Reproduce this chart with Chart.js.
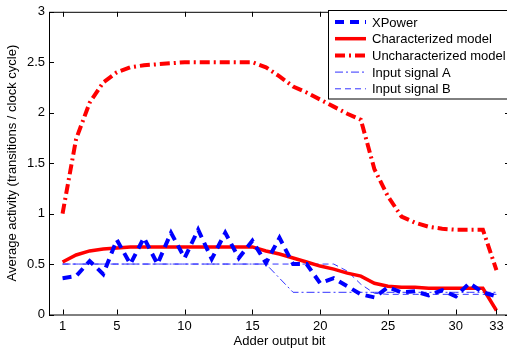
<!DOCTYPE html>
<html>
<head>
<meta charset="utf-8">
<script src="https://cdn.jsdelivr.net/npm/chart.js@4/dist/chart.umd.min.js"></script>
<style>
  html, body { margin: 0; padding: 0; background: #fff; overflow: hidden; }
  #wrap { width: 507px; height: 349px; overflow: hidden; }
</style>
</head>
<body>
<div id="wrap"><canvas id="myChart" width="512" height="349"></canvas></div>
<script>
const bits = [1, 2, 3, 4, 5, 6, 7, 8, 9, 10, 11, 12, 13, 14, 15, 16, 17,
    18, 19, 20, 21, 22, 23, 24, 25, 26, 27, 28, 29, 30, 31, 32, 33];

const xpower = [0.36, 0.38, 0.53, 0.40, 0.74, 0.50, 0.76, 0.50, 0.81, 0.56, 0.84,
    0.55, 0.81, 0.56, 0.73, 0.51, 0.76, 0.50, 0.50, 0.31, 0.36, 0.28, 0.20, 0.17,
    0.27, 0.22, 0.23, 0.19, 0.24, 0.18, 0.31, 0.22, 0.18];
const characterized = [0.52, 0.59, 0.63, 0.65, 0.66, 0.67, 0.67, 0.67, 0.67, 0.67, 0.67,
    0.67, 0.67, 0.67, 0.67, 0.63, 0.60, 0.56, 0.52, 0.48, 0.45, 0.41, 0.38, 0.31,
    0.28, 0.27, 0.27, 0.26, 0.26, 0.26, 0.26, 0.26, 0.04];
const uncharacterized = [1.00, 1.74, 2.10, 2.30, 2.40, 2.45, 2.47, 2.48, 2.49, 2.50, 2.50,
    2.50, 2.50, 2.50, 2.50, 2.45, 2.36, 2.26, 2.20, 2.13, 2.06, 1.99, 1.93, 1.44,
    1.17, 0.97, 0.91, 0.87, 0.85, 0.84, 0.84, 0.84, 0.44];
const inputA = [0.50, 0.50, 0.50, 0.50, 0.50, 0.50, 0.50, 0.50, 0.50, 0.50, 0.50,
    0.50, 0.50, 0.50, 0.50, 0.50, 0.36, 0.22, 0.22, 0.22, 0.22, 0.22, 0.22, 0.22,
    0.22, 0.22, 0.22, 0.22, 0.22, 0.22, 0.22, 0.22, 0.22];
const inputB = [0.50, 0.50, 0.50, 0.50, 0.50, 0.50, 0.50, 0.50, 0.50, 0.50, 0.50,
    0.50, 0.50, 0.50, 0.50, 0.50, 0.50, 0.50, 0.50, 0.50, 0.50, 0.43, 0.30, 0.21,
    0.20, 0.20, 0.20, 0.20, 0.20, 0.20, 0.20, 0.20, 0.20];

const xTicks = [1, 5, 10, 15, 20, 25, 30, 33];
const yTicks = [0, 0.5, 1, 1.5, 2, 2.5, 3];

const pts = vals => vals.map((v, i) => ({ x: bits[i], y: v }));

Chart.defaults.font.family = '"Liberation Sans", Arial, sans-serif';
Chart.defaults.font.size = 13;
Chart.defaults.color = '#000';

// MATLAB style frame: box all round, ticks pointing inwards
const frame = {
    id: 'frame',
    afterDatasetsDraw(chart) {
        const { ctx, chartArea: a, scales: { x, y } } = chart;
        ctx.save();
        ctx.strokeStyle = '#000';
        ctx.lineWidth = 1;
        ctx.strokeRect(a.left + 0.5, a.top + 0.5, a.right - a.left, a.bottom - a.top);
        ctx.beginPath();
        xTicks.forEach(t => {
            const px = Math.round(x.getPixelForValue(t)) + 0.5;
            ctx.moveTo(px, a.bottom); ctx.lineTo(px, a.bottom - 5);
            ctx.moveTo(px, a.top); ctx.lineTo(px, a.top + 5);
        });
        yTicks.forEach(t => {
            const py = Math.round(y.getPixelForValue(t)) + 0.5;
            ctx.moveTo(a.left, py); ctx.lineTo(a.left + 5, py);
            ctx.moveTo(a.right, py); ctx.lineTo(a.right - 5, py);
        });
        ctx.stroke();

        // legend box
        const lx = 328.5, ly = 10.5, lw = 200, lh = 88.5;
        ctx.fillStyle = '#fff';
        ctx.fillRect(lx, ly, lw, lh);
        ctx.strokeRect(lx, ly, lw, lh);
        ctx.font = '13px "Liberation Sans", Arial, sans-serif';
        ctx.textBaseline = 'middle';
        chart.data.datasets.forEach((ds, i) => {
            const ry = 22 + i * 16.7;
            ctx.save();
            ctx.strokeStyle = ds.borderColor;
            ctx.lineWidth = ds.borderWidth;
            ctx.setLineDash(ds.borderDash || []);
            ctx.beginPath();
            ctx.moveTo(335, ry); ctx.lineTo(366, ry);
            ctx.stroke();
            ctx.restore();
            ctx.fillStyle = '#000';
            ctx.fillText(ds.label, 372, ry + 1);
        });
        ctx.restore();
    }
};

const ctx = document.getElementById('myChart').getContext('2d');

const myChart = new Chart(ctx, {
    type: 'line',
    data: {
        datasets: [{
            label: 'XPower',
            data: pts(xpower),
            borderColor: '#0000ff',
            borderWidth: 4,
            borderDash: [9, 6]
        }, {
            label: 'Characterized model',
            data: pts(characterized),
            borderColor: '#ff0000',
            borderWidth: 3.5
        }, {
            label: 'Uncharacterized model',
            data: pts(uncharacterized),
            borderColor: '#ff0000',
            borderWidth: 4,
            borderDash: [10, 4, 2, 4]
        }, {
            label: 'Input signal A',
            data: pts(inputA),
            borderColor: '#3333ff',
            borderWidth: 1,
            borderDash: [8, 3, 2, 3]
        }, {
            label: 'Input signal B',
            data: pts(inputB),
            borderColor: '#3333ff',
            borderWidth: 1,
            borderDash: [6, 4]
        }]
    },
    options: {
        responsive: false,
        animation: false,
        layout: { padding: { top: 11, right: 2, left: 5, bottom: 0 } },
        elements: {
            point: { radius: 0 },
            line: { tension: 0, borderCapStyle: 'butt', fill: false }
        },
        plugins: {
            legend: { display: false },
            tooltip: { enabled: false }
        },
        scales: {
            x: {
                type: 'linear',
                min: 0,
                max: 34,
                afterFit: s => { s.height = 34.5; },
                afterBuildTicks: s => { s.ticks = xTicks.map(v => ({ value: v })); },
                grid: { display: true, drawOnChartArea: false, drawTicks: false },
                border: { display: false },
                ticks: { padding: 4, autoSkip: false, maxRotation: 0 },
                title: {
                    display: true,
                    text: 'Adder output bit',
                    padding: { top: 0, bottom: 0 }
                }
            },
            y: {
                min: 0,
                max: 3,
                afterFit: s => { s.width = 44; },
                afterBuildTicks: s => { s.ticks = yTicks.map(v => ({ value: v })); },
                grid: { display: true, drawOnChartArea: false, drawTicks: false },
                border: { display: false },
                ticks: { padding: 4, callback: v => String(v) },
                title: {
                    display: true,
                    text: 'Average activity (transitions / clock cycle)',
                    padding: { top: 0, bottom: 0 }
                }
            }
        }
    },
    plugins: [frame]
});
</script>
</body>
</html>
